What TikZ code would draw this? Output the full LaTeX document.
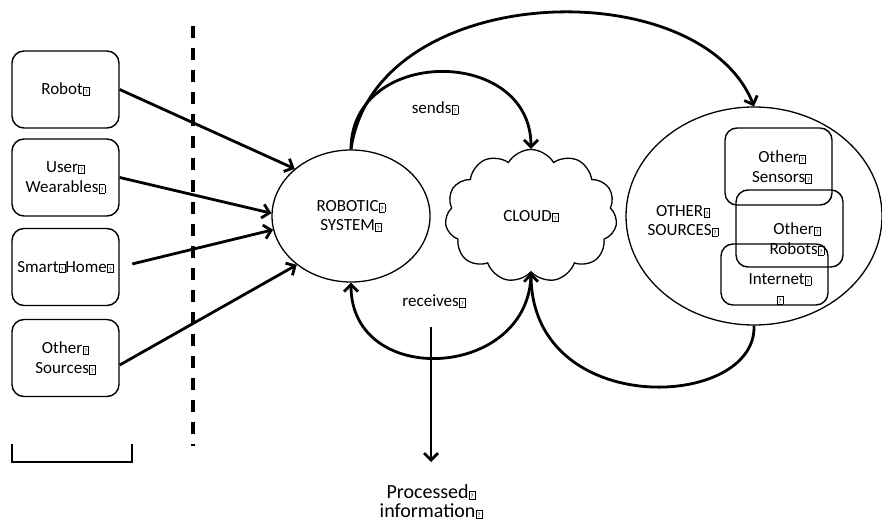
\documentclass[tikz,border=0pt]{standalone}
\usepackage{fontspec}
\setmainfont{Carlito}
\usetikzlibrary{shapes.geometric,shapes.symbols,arrows.meta,calc}
\newcommand\qm{\kern0.3pt{\setlength\fboxsep{0.4pt}\setlength\fboxrule{0.55pt}\fbox{\makebox[4.6pt]{\rule{0pt}{7pt}\fontsize{6.5}{6.5}\selectfont ?}}}}
\begin{document}
\begin{tikzpicture}[x=1pt,y=-1pt,
  lbl/.style={font=\fontsize{17}{19.5}\selectfont, align=center, inner sep=0},
  srcbox/.style={draw, rounded corners=12pt, line width=1.4pt, minimum width=107pt, minimum height=77pt, align=center, inner sep=0, font=\fontsize{17}{19.5}\selectfont},
  inbox/.style={draw, rounded corners=12pt, line width=1.4pt, minimum width=107pt, inner sep=0},
  oval/.style={draw, ellipse, line width=1.3pt, inner sep=0, align=center, font=\fontsize{17}{19.5}\selectfont},
  arr/.style={line width=2.8pt, -{Straight Barb[length=7pt,width=14pt]}}]
\useasboundingbox (0,0) rectangle (882,526);

% left source boxes
\node[srcbox] (robot) at (65.5,89.5) {Robot\qm};
\node[srcbox] (wear) at (65.5,177.5) {User\qm\\Wearables\qm};
\node[srcbox] (home) at (65.5,267) {Smart\qm Home\qm};
\node[srcbox] (other) at (65.5,358) {Other\qm\\Sources\qm};

% bracket
\coordinate (b1) at (12,444);
\coordinate (b2) at (12,462);
\coordinate (b3) at (132,462);
\coordinate (b4) at (132,444);
\draw[line width=2.8pt] (b1) -- (b2) -- (b3) -- (b4);

% dashed divider
\coordinate (d1) at (193,26);
\coordinate (d2) at (193,446);
\draw[line width=3.2pt, dash pattern=on 12pt off 10pt] (d1) -- (d2);

% robotic system
\node[oval, minimum width=158pt, minimum height=132pt] (rs) at (351,216) {ROBOTIC\qm\\SYSTEM\qm};

% cloud
\node[draw, cloud, cloud puffs=11, cloud puff arc=120, aspect=1.3, line width=1.3pt,
  minimum width=172pt, minimum height=133pt, inner sep=0, font=\fontsize{17}{19.5}\selectfont] (cloud) at (531,216) {CLOUD\qm};

% other sources
\node[oval, minimum width=256pt, minimum height=218pt] (os) at (754,216) {};
\node[lbl] (ostxt) at (683,221) {OTHER\qm\\SOURCES\qm};
\node[inbox, minimum height=77pt] (sens) at (778.5,166.5) {};
\node[inbox, minimum height=77pt] (robs) at (789.5,228.5) {};
\node[inbox, minimum height=61pt] (inet) at (774.5,274.5) {};
\node[lbl] (senstxt) at (782,167) {Other\qm\\Sensors\qm};
\node[lbl] (robstxt) at (797,239) {Other\qm\\Robots\qm};
\node[lbl] (inettxt) at (780,289) {Internet\qm\\\qm};

% inputs
\draw[arr] (robot.east) -- (rs.140);
\draw[arr] (wear.east) -- (rs.178);
\draw[arr, shorten <=13pt] (home.east) -- (rs.190);
\draw[arr] ($(other.east)+(0,7)$) -- (rs.222);

% sends / receives
\draw[arr] (rs.north) .. controls +(0,-103) and +(0,-103) .. (cloud.north);
\node[lbl] (sends) at (435,108) {sends\qm};
\draw[arr] (cloud.south) .. controls +(0,107) and +(0,107) .. (rs.south);
\node[lbl] (recv) at (434,301) {receives\qm};

% big arcs
\draw[arr] (rs.north) .. controls (375,-20) and (700,-30) .. (os.north);
\draw[arr] (os.south) .. controls (757,410) and (532,420) .. (cloud.south);

% processed information
\coordinate (p1) at (431,327);
\coordinate (p2) at (431,462);
\draw[arr] (p1) -- (p2);
\node[lbl, font=\fontsize{20}{19}\selectfont] (proc) at (431,502) {Processed\qm\\information\qm};
\end{tikzpicture}
\end{document}
